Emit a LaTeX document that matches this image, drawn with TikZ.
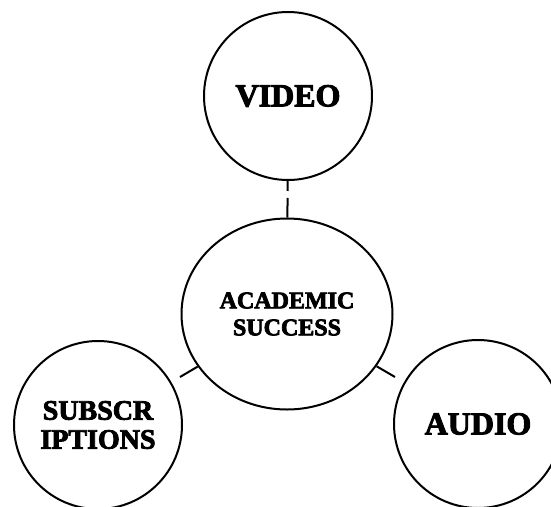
\documentclass[tikz,border=0pt]{standalone}
\usepackage{fontspec}
\setmainfont{Liberation Serif}[BoldFeatures={FakeBold=3}]
\usetikzlibrary{shapes.geometric}
\begin{document}
\begin{tikzpicture}[x=1pt,y=-1pt,
  bubble/.style={draw, circle, line width=2pt, minimum size=168pt, inner sep=0pt, align=center},
  link/.style={line width=2pt}]
\useasboundingbox (0,0) rectangle (551,506);
\clip (0,0) rectangle (551,506);
% the centre and the three outer circles
\node[draw, ellipse, line width=2pt, minimum width=211pt, minimum height=191pt, inner sep=0pt, align=center,
  font=\bfseries\fontsize{24}{27}\selectfont] (acad) at (287,314) {ACADEMIC\\SUCCESS};
\node[bubble, font=\bfseries\fontsize{32}{36}\selectfont] (video) at (288,96) {VIDEO};
\node[bubble, font=\bfseries\fontsize{28}{29}\selectfont] (subs) at (98,425) {SUBSCR\\IPTIONS};
\node[bubble, font=\bfseries\fontsize{32}{36}\selectfont] (audio) at (478,424) {AUDIO};
% short stubs towards the lower circles
\coordinate (subsEnd) at (180,377);
\coordinate (audioEnd) at (395,377);
\draw[link, dash pattern=on 10pt off 7pt on 40pt] (video) -- (acad);
\draw[link] (acad) -- (subsEnd);
\draw[link] (acad) -- (audioEnd);
\end{tikzpicture}
\end{document}
